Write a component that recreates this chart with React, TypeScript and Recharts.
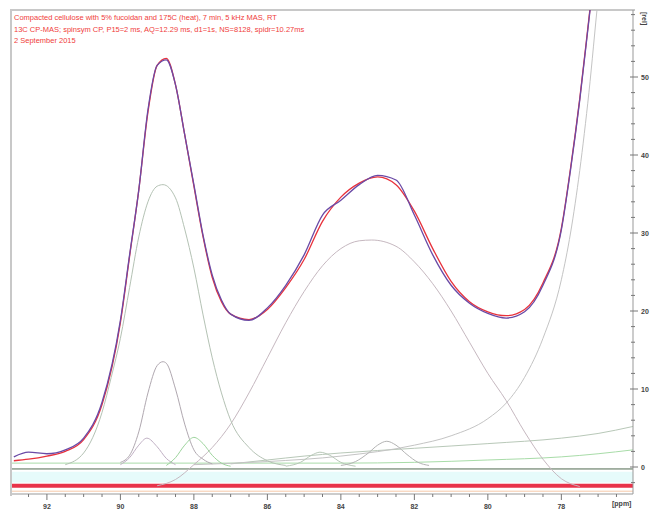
import React from 'react';
import { LineChart, Line, XAxis, YAxis, ReferenceArea } from 'recharts';

// chemical shift points (ppm) and intensities
const specPpm = [92.9, 92.5, 92, 91.5, 91, 90.5, 90, 89.75, 89.5, 89.25, 89, 88.75, 88.5, 88.25, 88, 87.75, 87.5, 87.25, 87, 86.5, 86, 85.5, 85, 84.5, 84, 83.5, 83, 82.5, 82, 81.5, 81, 80.5, 80, 79.5, 79, 78.5, 78, 77.75, 77.5, 77.25, 77];
const measured = [1.3, 1.9, 1.7, 2.2, 3.7, 8.3, 18.8, 27.2, 35.5, 45.8, 51.5, 52.2, 49, 42.6, 36.2, 29.7, 24.6, 21.4, 19.6, 18.8, 20.4, 23.3, 27.2, 32.3, 34.2, 36.2, 37.4, 36.8, 32.3, 27.2, 23.3, 21, 19.7, 19.1, 19.9, 23.3, 30.4, 38.1, 47, 57.3, 67.6];
const fitted = [0.8, 1.0, 1.4, 2.0, 3.5, 8.0, 18.5, 27, 35.5, 45.5, 51.5, 52.4, 49, 42.6, 36, 29.5, 24.3, 21.2, 19.6, 18.9, 20.2, 23, 26.6, 31.5, 34.6, 36.4, 37.2, 36.2, 32.8, 28, 23.8, 21.2, 19.9, 19.4, 20.2, 23.6, 30.6, 38.3, 47.2, 57.5, 68];

const crystPpm = [91.5, 91, 90.5, 90.25, 90, 89.75, 89.5, 89.25, 89, 88.84, 88.5, 88.25, 88, 87.75, 87.5, 87.25, 87, 86.5, 86, 85.5];
const crystVals = [0.3, 1.8, 7, 11.5, 16.5, 23, 29.5, 34, 36, 36.2, 34.5, 30.5, 25.5, 19.5, 14, 9.5, 6, 2.5, 0.8, 0.2];

const narrowPpm = [90, 89.75, 89.5, 89.25, 89, 88.84, 88.75, 88.5, 88.25, 88, 87.75, 87.5];
const narrowVals = [0.6, 1.5, 4.5, 9.5, 13, 13.5, 13.3, 10, 5.5, 2.2, 1, 0.4];

const smallAPpm = [90, 89.75, 89.5, 89.28, 89, 88.75, 88.5];
const smallAVals = [0.3, 1.2, 2.8, 3.7, 2.6, 1.1, 0.3];

const smallBPpm = [88.75, 88.5, 88.25, 88, 87.75, 87.5, 87.25, 87];
const smallBVals = [0.2, 1.2, 2.8, 3.8, 3.0, 1.5, 0.5, 0.1];

const amorphPpm = [89, 88.5, 88, 87.5, 87, 86.5, 86, 85.5, 85, 84.5, 84, 83.5, 83.16, 82.5, 82, 81.5, 81, 80.5, 80, 79.5, 79, 78.5, 78, 77.5];
const amorphVals = [-2.4, -1.6, 0.3, 2.5, 5.5, 9.5, 14, 18.5, 22.5, 25.8, 28, 29, 29.1, 28.3, 26.3, 23.5, 20, 16, 12, 8.5, 4.5, 1, -1.5, -2.5];

const smallCPpm = [85.5, 85.1, 84.8, 84.57, 84.3, 84, 83.6];
const smallCVals = [0.1, 0.6, 1.5, 1.9, 1.5, 0.6, 0.1];

const smallDPpm = [84, 83.6, 83.25, 83, 82.75, 82.5, 82.2, 81.9, 81.6];
const smallDVals = [0.2, 0.7, 1.8, 2.8, 3.3, 2.8, 1.6, 0.6, 0.2];

const tailPpm = [88, 86, 84, 82, 81, 80, 79.5, 79, 78.5, 78, 77.75, 77.5, 77.25, 77, 76.5];
const tailVals = [0.3, 0.7, 1.4, 2.8, 4, 6.2, 8.2, 11.5, 16.5, 24, 30, 38, 48, 60, 80];

const broadPpm = [87, 86, 85, 84, 82, 80, 78, 77, 76.05];
const broadVals = [0.4, 0.9, 1.4, 1.8, 2.4, 3.0, 3.7, 4.3, 5.2];

const basePpm = [92.95, 88, 84, 82, 80, 78, 77, 76.05];
const baseVals = [0.5, 0.5, 0.5, 0.6, 0.9, 1.3, 1.7, 2.2];

const zeroPpm = [92.95, 76.05];
const zeroVals = [-0.25, -0.25];
const residVals = [-2.4, -2.4];
const lowVals = [-3.1, -3.1];

const xMajor = [92, 90, 88, 86, 84, 82, 80, 78];
const xMinor = [92.5, 91.5, 91, 90.5, 89.5, 89, 88.5, 87.5, 87, 86.5, 85.5, 85, 84.5, 83.5, 83, 82.5, 81.5, 81, 80.5, 79.5, 79, 78.5, 77.5, 77, 76.5];
const yMajor = [0, 10, 20, 30, 40, 50];
const yMinor = [-2, 2, 4, 6, 8, 12, 14, 16, 18, 22, 24, 26, 28, 32, 34, 36, 38, 42, 44, 46, 48, 52, 54, 56, 58];

const titleLines = [
  'Compacted cellulose with 5% fucoidan and 175C (heat), 7 min, 5 kHz MAS, RT',
  '13C CP-MAS; spinsym CP, P15=2 ms, AQ=12.29 ms, d1=1s, NS=8128, spidr=10.27ms',
  '2 September 2015',
];

const pts = (ppm: number[], vals: number[]) => ppm.map((p, i) => ({ ppm: p, v: vals[i] }));

const XTick = (props: any) => {
  const { x, y, payload } = props;
  const major = xMajor.includes(payload.value);
  return (
    <g>
      <line x1={x} x2={x} y1={y} y2={y + (major ? 6 : 3)} stroke="#777" />
      {major && (
        <text x={x} y={y + 15} textAnchor="middle" fontSize={7} fontWeight="bold" fill="#444" fontFamily="Liberation Sans">
          {payload.value}
        </text>
      )}
    </g>
  );
};

const YTick = (props: any) => {
  const { x, y, payload } = props;
  const major = yMajor.includes(payload.value);
  return (
    <g>
      <line x1={x - (major ? 3 : 2)} x2={x + (major ? 5 : 2)} y1={y} y2={y} stroke="#777" />
      {major && (
        <text x={x + 8} y={y + 2.5} fontSize={7} fontWeight="bold" fill="#444" fontFamily="Liberation Sans">
          {payload.value}
        </text>
      )}
    </g>
  );
};

const series = [
  { key: 'base', data: pts(basePpm, baseVals), color: '#a8dca8', w: 1 },
  { key: 'zero', data: pts(zeroPpm, zeroVals), color: '#4f6a4f', w: 1 },
  { key: 'low', data: pts(zeroPpm, lowVals), color: '#f5c9a8', w: 1 },
  { key: 'resid', data: pts(zeroPpm, residVals), color: '#e8334a', w: 4 },
  { key: 'broad', data: pts(broadPpm, broadVals), color: '#b8c8b8', w: 1 },
  { key: 'tail', data: pts(tailPpm, tailVals), color: '#c4c4c4', w: 1 },
  { key: 'amorph', data: pts(amorphPpm, amorphVals), color: '#c6b8c0', w: 1 },
  { key: 'smallC', data: pts(smallCPpm, smallCVals), color: '#b8c8b8', w: 1 },
  { key: 'smallD', data: pts(smallDPpm, smallDVals), color: '#b4b4b4', w: 1 },
  { key: 'cryst', data: pts(crystPpm, crystVals), color: '#b4c2b4', w: 1 },
  { key: 'narrow', data: pts(narrowPpm, narrowVals), color: '#b0a8b0', w: 1 },
  { key: 'smallA', data: pts(smallAPpm, smallAVals), color: '#c0b0c4', w: 1 },
  { key: 'smallB', data: pts(smallBPpm, smallBVals), color: '#9cd49c', w: 1 },
  { key: 'fit', data: pts(specPpm, fitted), color: '#e8323c', w: 1.3 },
  { key: 'measured', data: pts(specPpm, measured), color: '#6a4aa6', w: 1.3 },
];

const App: React.FC = () => {
  return (
    <div style={{ position: 'absolute', left: 0, top: 0, width: 656, height: 517, background: '#fff' }}>
      <div
        style={{
          position: 'absolute', left: 10, top: 9, width: 623, height: 485,
          borderTop: '2px solid #c8c8c8', borderLeft: '2px solid #c8c8c8',
        }}
      />
      <LineChart width={656} height={517} margin={{ top: 10, right: 0, bottom: 0, left: 12 }}>
        <ReferenceArea y1={-2.0} y2={-0.6} fill="#e6fbfb" fillOpacity={1} stroke="none" />
        <XAxis
          type="number"
          dataKey="ppm"
          domain={[76.05, 92.95]}
          reversed
          allowDataOverflow
          allowDuplicatedCategory={false}
          ticks={[...xMajor, ...xMinor]}
          interval={0}
          tickSize={0}
          tickMargin={0}
          tickLine={false}
          height={23}
          axisLine={{ stroke: '#999' }}
          tick={(p: any) => <XTick {...p} />}
        />
        <YAxis
          orientation="right"
          type="number"
          domain={[-3.46, 58.59]}
          allowDataOverflow
          ticks={[...yMajor, ...yMinor]}
          interval={0}
          tickSize={0}
          tickMargin={0}
          tickLine={false}
          width={23}
          axisLine={{ stroke: '#999' }}
          tick={(p: any) => <YTick {...p} />}
        />
        {series.map((s) => (
          <Line
            key={s.key}
            data={s.data}
            dataKey="v"
            type="monotone"
            stroke={s.color}
            strokeWidth={s.w}
            dot={false}
            isAnimationActive={false}
          />
        ))}
      </LineChart>
      {titleLines.map((t, i) => (
        <div
          key={i}
          style={{
            position: 'absolute', left: 14, top: 13 + i * 11.5, fontSize: 7.5,
            fontFamily: 'Liberation Sans', color: '#f0403c', whiteSpace: 'nowrap',
          }}
        >
          {t}
        </div>
      ))}
      <div style={{ position: 'absolute', left: 612, top: 500, fontSize: 7, fontWeight: 'bold', fontFamily: 'Liberation Sans', color: '#444' }}>
        [ppm]
      </div>
      <div
        style={{
          position: 'absolute', left: 638, top: 12, fontSize: 7, fontWeight: 'bold', fontFamily: 'Liberation Sans',
          color: '#444', transform: 'rotate(90deg)', transformOrigin: 'left top', marginLeft: 10,
        }}
      >
        [rel]
      </div>
    </div>
  );
};

export default App;
